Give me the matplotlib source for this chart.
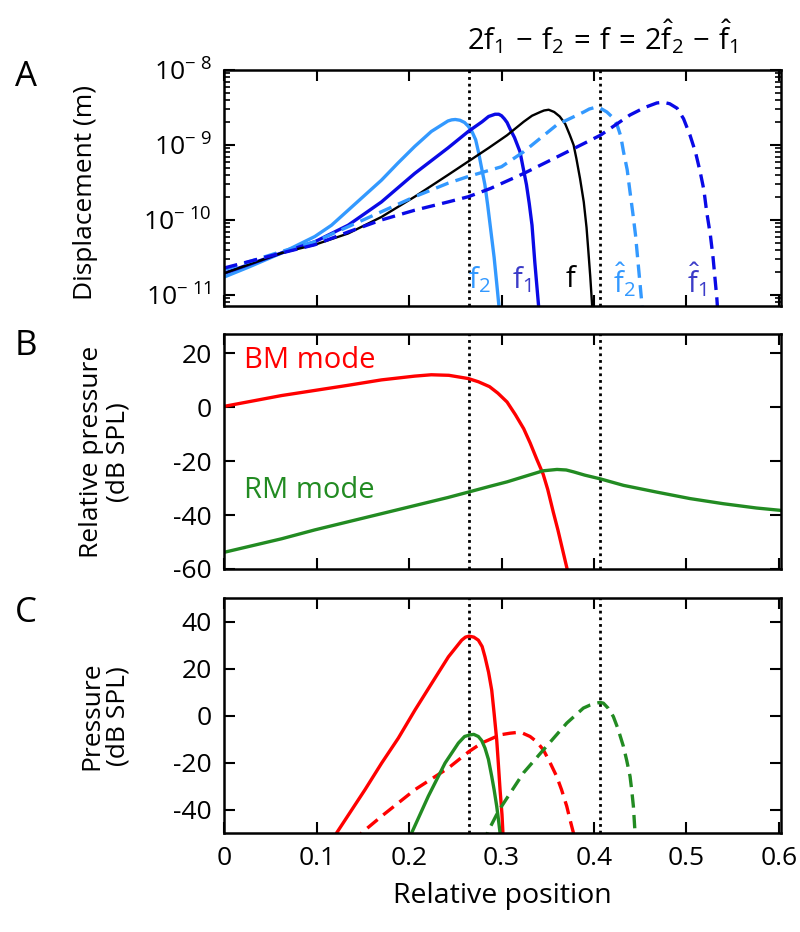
import numpy as np
import matplotlib.pyplot as plt
from matplotlib.ticker import FixedLocator, FuncFormatter, LogLocator, NullFormatter

plt.rcParams['font.family'] = 'Open Sans'
plt.rcParams['mathtext.fontset'] = 'custom'
plt.rcParams['mathtext.rm'] = 'Open Sans'
plt.rcParams['mathtext.it'] = 'Open Sans:italic'
plt.rcParams['mathtext.bf'] = 'Open Sans:bold'
plt.rcParams['axes.unicode_minus'] = False
plt.rcParams['xtick.labelsize'] = 19
plt.rcParams['ytick.labelsize'] = 19

# ---- Panel A : displacement (log10 of metres) ----
f2_x = [0, 0.026, 0.062, 0.098, 0.116, 0.134, 0.152, 0.170, 0.188, 0.206, 0.224,
        0.242, 0.246, 0.250, 0.255, 0.260, 0.264, 0.268, 0.272, 0.275, 0.278,
        0.282, 0.285, 0.289, 0.292, 0.295, 0.300]
f2_logd = [-10.76, -10.63, -10.44, -10.22, -10.07, -9.87, -9.67, -9.47, -9.24, -9.02,
           -8.82, -8.68, -8.665, -8.66, -8.67, -8.70, -8.75, -8.82, -8.93, -9.09,
           -9.28, -9.53, -9.80, -10.2, -10.5, -10.87, -11.5]

f1_x = [0, 0.062, 0.098, 0.134, 0.170, 0.206, 0.242, 0.264, 0.279, 0.286, 0.293,
        0.297, 0.300, 0.303, 0.306, 0.309, 0.314, 0.320, 0.323, 0.327, 0.330,
        0.333, 0.336, 0.340, 0.343]
f1_logd = [-10.71, -10.44, -10.29, -10.07, -9.76, -9.38, -9.04, -8.82, -8.69, -8.62,
           -8.59, -8.59, -8.61, -8.65, -8.70, -8.78, -8.90, -9.09, -9.28, -9.53,
           -9.78, -10.07, -10.56, -11.13, -11.67]

f_x = [0, 0.062, 0.098, 0.134, 0.170, 0.206, 0.242, 0.264, 0.286, 0.306, 0.324,
       0.333, 0.342, 0.346, 0.351, 0.357, 0.363, 0.369, 0.374, 0.378, 0.381,
       0.385, 0.389, 0.392, 0.394, 0.396, 0.398, 0.401]
f_logd = [-10.71, -10.44, -10.33, -10.18, -9.96, -9.69, -9.40, -9.22, -9.04, -8.87,
          -8.69, -8.61, -8.56, -8.54, -8.53, -8.56, -8.62, -8.72, -8.87, -9.0,
          -9.18, -9.45, -9.76, -10.1, -10.42, -10.75, -11.13, -11.67]

f2h_x = [0, 0.062, 0.098, 0.134, 0.170, 0.206, 0.242, 0.264, 0.300, 0.324, 0.360,
         0.389, 0.395, 0.401, 0.407, 0.414, 0.420, 0.425, 0.429, 0.432, 0.436,
         0.439, 0.442, 0.445, 0.448, 0.452, 0.456]
f2h_logd = [-10.66, -10.42, -10.29, -10.09, -9.89, -9.69, -9.51, -9.42, -9.29, -9.09,
            -8.73, -8.56, -8.52, -8.50, -8.51, -8.56, -8.63, -8.73, -8.88, -9.09,
            -9.33, -9.62, -9.90, -10.2, -10.6, -11.13, -11.67]

f1h_x = [0, 0.062, 0.098, 0.134, 0.170, 0.206, 0.242, 0.264, 0.288, 0.324, 0.360,
         0.407, 0.439, 0.455, 0.468, 0.475, 0.482, 0.490, 0.497, 0.504, 0.510,
         0.515, 0.519, 0.522, 0.526, 0.529, 0.533, 0.536]
f1h_logd = [-10.64, -10.44, -10.33, -10.16, -10.0, -9.87, -9.76, -9.69, -9.58, -9.38,
            -9.16, -8.87, -8.60, -8.50, -8.44, -8.43, -8.45, -8.51, -8.65, -8.87,
            -9.10, -9.36, -9.60, -9.89, -10.2, -10.51, -11.04, -11.58]

# ---- Panel B : relative pressure (dB SPL) ----
bm_x = [0, 0.062, 0.098, 0.134, 0.170, 0.206, 0.224, 0.243, 0.264, 0.275, 0.287,
        0.296, 0.306, 0.315, 0.324, 0.331, 0.338, 0.345, 0.350, 0.356, 0.361,
        0.365, 0.371, 0.376]
bm_db = [0.3, 4.3, 6.2, 8.1, 10.1, 11.5, 12.0, 11.8, 10.6, 9.4, 7.6, 5.2, 1.9,
         -2.8, -8.0, -13.3, -19.2, -24.8, -30.5, -38.9, -45.5, -51.3, -60.0, -68.0]

rm_x = [0, 0.062, 0.098, 0.134, 0.170, 0.206, 0.242, 0.264, 0.288, 0.306, 0.324,
        0.345, 0.360, 0.370, 0.378, 0.390, 0.407, 0.432, 0.468, 0.504, 0.540,
        0.576, 0.603]
rm_db = [-53.8, -48.8, -45.5, -42.5, -39.5, -36.5, -33.5, -31.5, -29.3, -27.7,
         -25.8, -23.6, -23.1, -23.3, -24.0, -25.2, -26.6, -29.0, -31.5, -33.9,
         -35.8, -37.4, -38.3]

# ---- Panel C : pressure (dB SPL) ----
bm_s_x = [0.118, 0.1216, 0.1523, 0.1703, 0.1883, 0.2064, 0.2244, 0.2425, 0.2569,
          0.261, 0.2648, 0.270, 0.2749, 0.279, 0.2821, 0.286, 0.2894, 0.292,
          0.2948, 0.2965, 0.2984, 0.3005, 0.3015, 0.303]
bm_s_db = [-55, -49.8, -31.4, -20.1, -9.5, 2.5, 13.8, 25.1, 32.2, 33.5, 33.9, 33.5,
           32.2, 29.5, 25.1, 18.5, 10.9, 1.0, -10.3, -20.0, -31.4, -42.0, -49.8, -55]

bm_d_x = [0.143, 0.1487, 0.1703, 0.2064, 0.2425, 0.2648, 0.2785, 0.2984, 0.3092,
          0.3164, 0.323, 0.3309, 0.338, 0.3453, 0.352, 0.3597, 0.365, 0.3706,
          0.374, 0.3778, 0.381]
bm_d_db = [-55, -49.8, -42.7, -31.4, -22.2, -15.2, -11.6, -8.1, -7.4, -7.1, -7.4,
           -8.8, -11.0, -14.5, -19.5, -25.8, -31.5, -38.5, -44.0, -49.8, -55]

rm_s_x = [0.199, 0.2028, 0.2208, 0.2389, 0.2533, 0.260, 0.2659, 0.270, 0.2749,
          0.2785, 0.2821, 0.2858, 0.2894, 0.292, 0.2948, 0.2966, 0.2984, 0.300]
rm_s_db = [-55, -49.8, -34.2, -20.1, -11.6, -8.8, -8.1, -7.9, -8.8, -10.5, -13.7,
           -18.5, -25.8, -31.5, -38.5, -44.0, -49.8, -55]

rm_d_x = [0.281, 0.2850, 0.2966, 0.3237, 0.3453, 0.3706, 0.3886, 0.396, 0.4030,
          0.4066, 0.4102, 0.4155, 0.4210, 0.426, 0.4319, 0.4355, 0.4391, 0.441,
          0.4427, 0.4445, 0.446]
rm_d_db = [-55, -49.5, -40.6, -24.3, -14.5, -3.1, 3.3, 4.6, 5.4, 5.7, 5.4, 3.2,
           -0.3, -5.5, -13.0, -19.0, -25.8, -32.0, -38.5, -49.8, -55]

dotted_x = [0.265, 0.407]
x_ticks = [0, 0.1, 0.2, 0.3, 0.4, 0.5, 0.6]

light_blue = '#3399ff'
blue = '#0a0ae6'
red = '#ff0000'
green = '#228b22'
lw = 2.4
dash = (0, (4, 2.2))

fig = plt.figure(figsize=(8, 9.32), dpi=100)
axA = fig.add_axes([0.2804, 0.672, 0.6959, 0.2529])
axB = fig.add_axes([0.2804, 0.3895, 0.6959, 0.2518])
axC = fig.add_axes([0.2804, 0.1059, 0.6959, 0.2521])

# panel A
axA.plot(f2_x, 10 ** np.array(f2_logd), color=light_blue, lw=lw)
axA.plot(f1_x, 10 ** np.array(f1_logd), color=blue, lw=lw)
axA.plot(f_x, 10 ** np.array(f_logd), color='black', lw=1.7)
axA.plot(f2h_x, 10 ** np.array(f2h_logd), color=light_blue, lw=lw, linestyle=dash)
axA.plot(f1h_x, 10 ** np.array(f1h_logd), color=blue, lw=lw, linestyle=dash)
axA.set_yscale('log')
axA.set_ylim(10 ** -11.143, 1e-8)
axA.yaxis.set_major_locator(FixedLocator([1e-11, 1e-10, 1e-9, 1e-8]))
axA.yaxis.set_major_formatter(FuncFormatter(
    lambda v, _: r'$10^{-\ %d}$' % round(-np.log10(v))))
axA.yaxis.set_minor_locator(LogLocator(base=10, subs=np.arange(2, 10)))
axA.yaxis.set_minor_formatter(NullFormatter())

lab_y = 10 ** -10.8
axA.text(0.2757, lab_y, r'$\mathrm{f}_2$', color=light_blue, fontsize=21,
         ha='center', va='center')
axA.text(0.3212, lab_y, r'$\mathrm{f}_1$', color='#3c3cc8', fontsize=21,
         ha='center', va='center')
axA.text(0.376, lab_y, r'$\mathrm{f}$', color='black', fontsize=21,
         ha='center', va='center')
axA.text(0.4326, lab_y, r'$\hat{\mathrm{f}}_2$', color=light_blue, fontsize=21,
         ha='center', va='center')
axA.text(0.5116, lab_y, r'$\hat{\mathrm{f}}_1$', color='#3c3cc8', fontsize=21,
         ha='center', va='center')

# panel B
axB.plot(bm_x, bm_db, color=red, lw=lw)
axB.plot(rm_x, rm_db, color=green, lw=lw)
axB.set_ylim(-60, 27)
axB.set_yticks([-60, -40, -20, 0, 20])
axB.text(0.021, 17.3, 'BM mode', color=red, fontsize=21, va='center')
axB.text(0.021, -30.9, 'RM mode', color=green, fontsize=21, va='center')

# panel C
axC.plot(bm_s_x, bm_s_db, color=red, lw=lw)
axC.plot(bm_d_x, bm_d_db, color=red, lw=lw, linestyle=dash)
axC.plot(rm_s_x, rm_s_db, color=green, lw=lw)
axC.plot(rm_d_x, rm_d_db, color=green, lw=lw, linestyle=dash)
axC.set_ylim(-50, 50)
axC.set_yticks([-40, -20, 0, 20, 40])
axC.set_xlabel('Relative position', fontsize=20.5, labelpad=8)

for ax in (axA, axB, axC):
    for x in dotted_x:
        ax.axvline(x, color='black', lw=2, linestyle=(0, (1, 1.4)), zorder=1)
    ax.set_xlim(0, 0.6025)
    ax.set_xticks(x_ticks)
    ax.tick_params(which='major', direction='in', top=True, right=True,
                   length=8, width=1.5, labelsize=19, pad=9)
    ax.tick_params(which='minor', direction='in', top=True, right=True,
                   length=4, width=1.2)
    for s in ax.spines.values():
        s.set_linewidth(1.8)
axA.tick_params(labelbottom=False)
axB.tick_params(labelbottom=False)
axC.set_xticklabels(['0', '0.1', '0.2', '0.3', '0.4', '0.5', '0.6'])

# titles and panel letters
fig.text(602 / 800, 1 - 37 / 932,
         r'$2\mathrm{f}_1\,-\,\mathrm{f}_2\,=\,\mathrm{f}\,=\,2\hat{\mathrm{f}}_2\,-\,\hat{\mathrm{f}}_1$',
         fontsize=21, ha='center', va='center')
for letter, y in (('A', 77), ('B', 346), ('C', 613)):
    fig.text(26 / 800, 1 - y / 932, letter, fontsize=25, ha='center', va='center')

fig.text(86 / 800, 1 - 193 / 932, 'Displacement (m)', fontsize=19,
         rotation=90, ha='center', va='center')
fig.text(105 / 800, 1 - 452 / 932, 'Relative pressure\n(dB SPL)', fontsize=19,
         rotation=90, ha='center', va='center', linespacing=1.1)
fig.text(105 / 800, 1 - 716 / 932, 'Pressure\n(dB SPL)', fontsize=19,
         rotation=90, ha='center', va='center', linespacing=1.1)

fig.savefig('out.png', dpi=100)
